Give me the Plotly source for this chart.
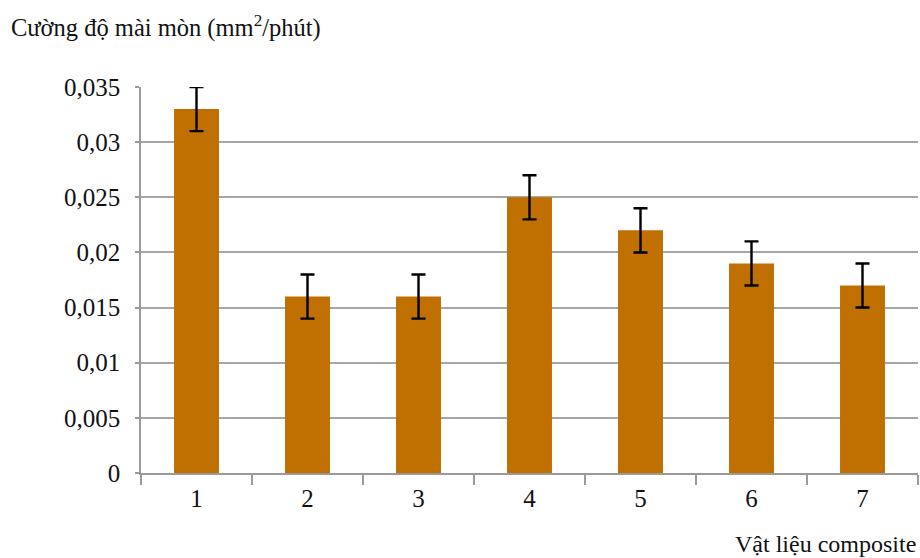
import plotly.graph_objects as go

categories = ["1", "2", "3", "4", "5", "6", "7"]
values = [0.033, 0.016, 0.016, 0.025, 0.022, 0.019, 0.017]
errors = [0.002, 0.002, 0.002, 0.002, 0.002, 0.002, 0.002]
y_ticks = [0, 0.005, 0.01, 0.015, 0.02, 0.025, 0.03, 0.035]
y_tick_labels = ["0", "0,005", "0,01", "0,015", "0,02", "0,025", "0,03", "0,035"]
y_title = "Cường độ mài mòn (mm<sup>2</sup>/phút)"
x_title = "Vật liệu composite"

FONT = "Liberation Serif"
W, H = 920, 558
L, R, T, B = 141, 2, 87, 85
pw, ph = W - L - R, H - T - B

fig = go.Figure(go.Bar(
    x=categories, y=values,
    marker=dict(color="rgb(192,112,0)", line=dict(width=0)),
    error_y=dict(type="data", array=errors, visible=True,
                 color="black", thickness=2.4, width=7),
))

fig.update_layout(
    width=W, height=H,
    margin=dict(l=L, r=R, t=T, b=B, pad=0),
    paper_bgcolor="white", plot_bgcolor="white",
    bargap=0.595,
    showlegend=False,
    font=dict(family=FONT, size=25, color="#111"),
    xaxis=dict(
        type="category",
        showline=True, linecolor="#9a9a9a", linewidth=1.5,
        ticks="outside", tickson="boundaries", ticklen=10,
        tickcolor="#9a9a9a", tickwidth=1.5,
        showgrid=False, ticklabelstandoff=2,
        tickfont=dict(family=FONT, size=25, color="#111"),
    ),
    yaxis=dict(
        range=[0, 0.035],
        tickvals=y_ticks, ticktext=y_tick_labels,
        showline=True, linecolor="#9a9a9a", linewidth=1.5,
        ticks="outside", ticklen=4, tickcolor="#9a9a9a", tickwidth=1.5,
        showgrid=True, gridcolor="#a6a6a6", gridwidth=1.5,
        zeroline=False, ticklabelstandoff=10,
        tickfont=dict(family=FONT, size=25, color="#111"),
    ),
    annotations=[
        dict(text=y_title, xref="paper", yref="paper",
             x=(9 - L) / pw, y=(H - B - 26) / ph,
             xanchor="left", yanchor="middle", showarrow=False,
             font=dict(family=FONT, size=24.5, color="#111")),
        dict(text=x_title, xref="paper", yref="paper",
             x=1, y=-(544 - (H - B)) / ph,
             xanchor="right", yanchor="middle", showarrow=False,
             font=dict(family=FONT, size=24, color="#111")),
    ],
)

fig.write_html("out.html")
